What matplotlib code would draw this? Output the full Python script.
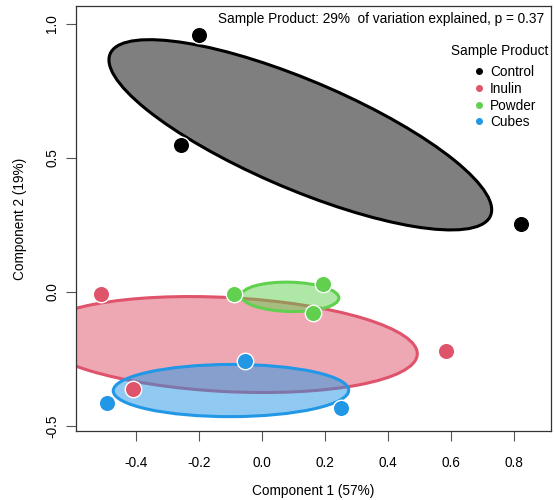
import matplotlib
matplotlib.use("Agg")
import matplotlib.pyplot as plt
from matplotlib.patches import Ellipse
import numpy as np

plt.rcParams['font.family'] = ['Liberation Sans', 'DejaVu Sans']

# sample scores on the first two components, per product
groups = ['Control', 'Inulin', 'Powder', 'Cubes']
colors = ['#000000', '#DF536B', '#61D04F', '#2297E6']
comp1 = {
    'Control': [-0.20, -0.257, 0.822],
    'Inulin': [-0.511, 0.584, -0.410],
    'Powder': [-0.089, 0.194, 0.162],
    'Cubes': [-0.054, -0.492, 0.251],
}
comp2 = {
    'Control': [0.959, 0.548, 0.252],
    'Inulin': [-0.007, -0.219, -0.363],
    'Powder': [-0.007, 0.030, -0.078],
    'Cubes': [-0.256, -0.415, -0.433],
}
xticks = [-0.4, -0.2, 0.0, 0.2, 0.4, 0.6, 0.8]
yticks = [-0.5, 0.0, 0.5, 1.0]
note = "Sample Product: 29%  of variation explained, p = 0.37"

fig = plt.figure(figsize=(5.54, 5.0), dpi=100)
ax = fig.add_axes([76 / 554, 69 / 500, 475 / 554, 425 / 500])

# 1-sd ellipses from each group's covariance
for g, c in zip(groups, colors):
    pts = np.column_stack([comp1[g], comp2[g]])
    centre = pts.mean(axis=0)
    vals, vecs = np.linalg.eigh(np.cov(pts.T))
    order = vals.argsort()[::-1]
    vals, vecs = vals[order], vecs[:, order]
    angle = np.degrees(np.arctan2(vecs[1, 0], vecs[0, 0]))
    ax.add_patch(Ellipse(centre, 2 * np.sqrt(vals[0]), 2 * np.sqrt(vals[1]),
                         angle=angle, facecolor=c, alpha=0.5, edgecolor='none'))
    ax.add_patch(Ellipse(centre, 2 * np.sqrt(vals[0]), 2 * np.sqrt(vals[1]),
                         angle=angle, facecolor='none', edgecolor=c, lw=2.2))

for g, c in zip(groups, colors):
    ax.scatter(comp1[g], comp2[g], s=140, color=c, edgecolors='white',
               linewidths=1.0, zorder=5)

ax.set_xlim(-0.590, 0.917)
ax.set_ylim(-0.519, 1.067)
ax.set_xticks(xticks)
ax.set_xticklabels(['%.1f' % v for v in xticks])
ax.set_yticks(yticks)
ax.set_yticklabels(['%.1f' % v for v in yticks], rotation=90, va='center')
ax.tick_params(length=7, width=0.8, color='#555555', labelsize=9.8)
ax.tick_params(axis='x', pad=11)
ax.tick_params(axis='y', pad=5)
for s in ax.spines.values():
    s.set_color('#333333')
    s.set_linewidth(0.9)

ax.set_xlabel('Component 1 (57%)', fontsize=9.8, labelpad=10)
ax.set_ylabel('Component 2 (19%)', fontsize=9.8, labelpad=13)

ax.text(0.985, 0.985, note, transform=ax.transAxes, ha='right', va='top',
        fontsize=9.8)

# legend: title as plain text, entries below it
ax.text(0.8926, 0.894, 'Sample Product', transform=ax.transAxes,
        ha='center', va='center', fontsize=9.8)
handles = [plt.Line2D([], [], marker='o', ls='', color=c, markersize=4)
           for c in colors]
leg = ax.legend(handles, groups, loc='upper left',
                bbox_to_anchor=(0.834, 0.861), frameon=False, fontsize=9.8,
                handletextpad=0.3, labelspacing=0.2, borderpad=0,
                borderaxespad=0, handlelength=1.0)

fig.savefig('out.png', dpi=100)
